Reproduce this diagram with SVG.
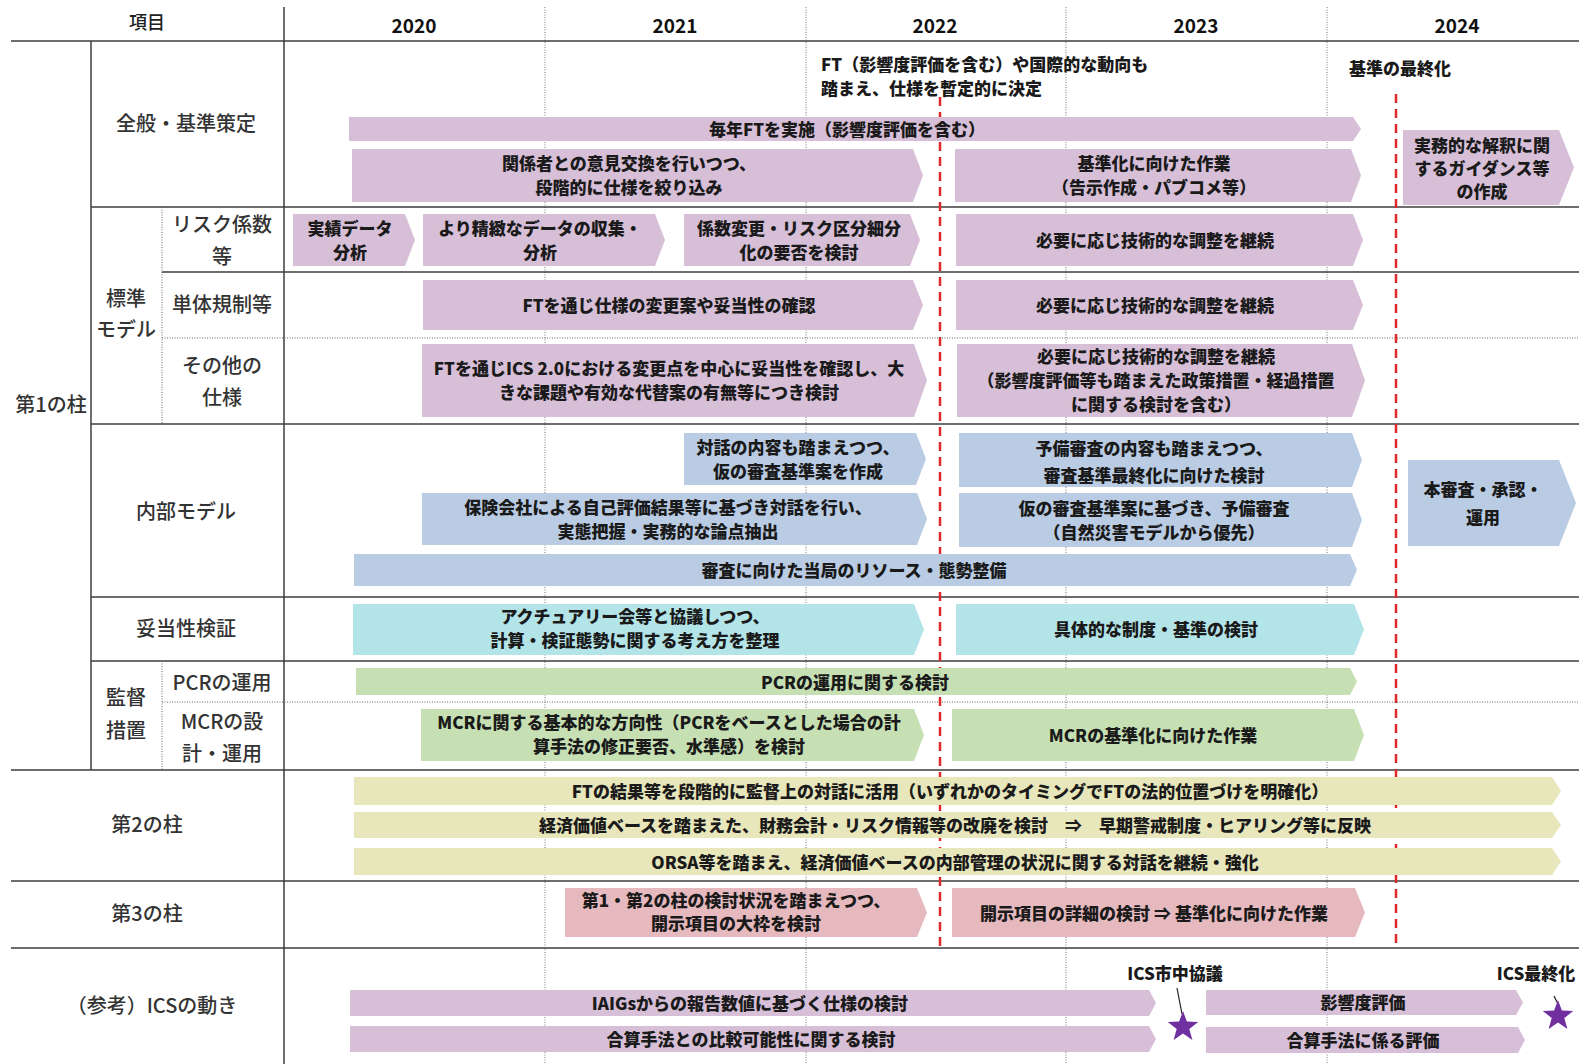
<svg xmlns="http://www.w3.org/2000/svg" width="1579" height="1064" viewBox="0 0 1579 1064">
<defs>
<style>
text{font-family:"Noto Sans CJK JP","Noto Sans CJK SC",sans-serif;}
.h{font-size:19px;font-weight:700;fill:#111;text-anchor:middle;dominant-baseline:central}
.hk{font-size:18px;font-weight:500;fill:#222;text-anchor:middle;dominant-baseline:central}
.l{font-size:20px;font-weight:500;fill:#333;text-anchor:middle;dominant-baseline:central}
.t{font-size:17px;font-weight:900;fill:#1a1a1a;text-anchor:middle;dominant-baseline:central}
.a{font-size:17px;font-weight:900;fill:#1a1a1a;dominant-baseline:central}
.g{stroke:#3c3c3c;stroke-width:1.5;fill:none}
.gd{stroke:#666;stroke-width:1;stroke-dasharray:1 1.5;fill:none}
.yr{stroke:#777;stroke-width:1;stroke-dasharray:1 1.5;fill:none}
.red{stroke:#e0282c;stroke-width:2.5;stroke-dasharray:9 6;fill:none}
.pu{fill:#d7bfd8}.bl{fill:#b9cce4}.cy{fill:#b3e4e8}.gr{fill:#c6e0b4}.ye{fill:#e8e6bb}.pk{fill:#e6b9bf}
.star{fill:#7030a0}
.pin{stroke:#222;stroke-width:1.2}
</style>
<polygon id="star" points="0,-16 3.9,-5.4 15.2,-4.9 6.3,2.05 9.4,12.9 0,6.6 -9.4,12.9 -6.3,2.05 -15.2,-4.9 -3.9,-5.4"/>
</defs>
<rect width="1579" height="1064" fill="#fff"/>

<g id="grid">
<line class="yr" x1="545" y1="7" x2="545" y2="1064"/>
<line class="yr" x1="806" y1="7" x2="806" y2="1064"/>
<line class="yr" x1="1066" y1="7" x2="1066" y2="1064"/>
<line class="yr" x1="1327" y1="7" x2="1327" y2="1064"/>
<line class="g" x1="284" y1="7" x2="284" y2="1064"/>
<line class="g" x1="11" y1="41" x2="1579" y2="41"/>
<line class="g" x1="91" y1="41" x2="91" y2="770"/>
<line class="g" x1="91" y1="207" x2="1579" y2="207"/>
<line class="gd" x1="162" y1="207" x2="162" y2="424"/>
<line class="g" x1="162" y1="272" x2="1579" y2="272"/>
<line class="gd" x1="162" y1="338" x2="1579" y2="338"/>
<line class="g" x1="91" y1="424" x2="1579" y2="424"/>
<line class="g" x1="91" y1="597" x2="1579" y2="597"/>
<line class="g" x1="91" y1="661" x2="1579" y2="661"/>
<line class="gd" x1="162" y1="661" x2="162" y2="770"/>
<line class="gd" x1="162" y1="702" x2="1579" y2="702"/>
<line class="g" x1="11" y1="770" x2="1579" y2="770"/>
<line class="g" x1="11" y1="881" x2="1579" y2="881"/>
<line class="g" x1="11" y1="948" x2="1579" y2="948"/>
</g>

<g id="header">
<text class="hk" x="147" y="21">項目</text>
<text class="h" x="414" y="24">2020</text>
<text class="h" x="675" y="24">2021</text>
<text class="h" x="935" y="24">2022</text>
<text class="h" x="1196" y="24">2023</text>
<text class="h" x="1457" y="24">2024</text>
</g>

<g id="labels">
<text class="l" x="51" y="403">第1の柱</text>
<text class="l" x="186" y="122">全般・基準策定</text>
<text class="l" x="126" y="297">標準</text>
<text class="l" x="126" y="328">モデル</text>
<text class="l" x="222" y="223">リスク係数</text>
<text class="l" x="222" y="255">等</text>
<text class="l" x="222" y="303">単体規制等</text>
<text class="l" x="222" y="364">その他の</text>
<text class="l" x="222" y="396">仕様</text>
<text class="l" x="186" y="510">内部モデル</text>
<text class="l" x="186" y="627">妥当性検証</text>
<text class="l" x="126" y="696">監督</text>
<text class="l" x="126" y="729">措置</text>
<text class="l" x="222" y="681">PCRの運用</text>
<text class="l" x="222" y="720">MCRの設</text>
<text class="l" x="222" y="752">計・運用</text>
<text class="l" x="147" y="823">第2の柱</text>
<text class="l" x="147" y="912">第3の柱</text>
<text class="l" x="152" y="1004">（参考）ICSの動き</text>
</g>

<g id="milestones">
<line class="red" x1="940" y1="97" x2="940" y2="946"/>
<line class="red" x1="1396" y1="94" x2="1396" y2="944"/>
<text class="a" x="821" y="63">FT（影響度評価を含む）や国際的な動向も</text>
<text class="a" x="821" y="87">踏まえ、仕様を暫定的に決定</text>
<text class="a" x="1349" y="67">基準の最終化</text>
</g>

<g id="b1"><polygon class="pu" points="349,117 1353,117 1361,129 1353,141 349,141"/><text class="t" x="847" y="128">毎年FTを実施（影響度評価を含む）</text></g>
<g id="b2"><polygon class="pu" points="352,149 913,149 923,175.5 913,202 352,202"/><text class="t"><tspan x="629" y="162">関係者との意見交換を行いつつ、</tspan><tspan x="629" y="186">段階的に仕様を絞り込み</tspan></text></g>
<g id="b3"><polygon class="pu" points="955,149 1351,149 1361,175.5 1351,202 955,202"/><text class="t"><tspan x="1154" y="162">基準化に向けた作業</tspan><tspan x="1154" y="186">（告示作成・パブコメ等）</tspan></text></g>
<g id="b4"><polygon class="pu" points="1403,130 1559,130 1574,167.5 1559,205 1403,205"/><text class="t"><tspan x="1482" y="144">実務的な解釈に関</tspan><tspan x="1482" y="167">するガイダンス等</tspan><tspan x="1482" y="190">の作成</tspan></text></g>

<g id="b5"><polygon class="pu" points="293,214 405,214 415,240 405,266 293,266"/><text class="t"><tspan x="350" y="227">実績データ</tspan><tspan x="350" y="251">分析</tspan></text></g>
<g id="b6"><polygon class="pu" points="423,214 655,214 665,240 655,266 423,266"/><text class="t"><tspan x="540" y="227">より精緻なデータの収集・</tspan><tspan x="540" y="251">分析</tspan></text></g>
<g id="b7"><polygon class="pu" points="684,214 910,214 920,240 910,266 684,266"/><text class="t"><tspan x="799" y="227">係数変更・リスク区分細分</tspan><tspan x="799" y="251">化の要否を検討</tspan></text></g>
<g id="b8"><polygon class="pu" points="956,214 1353,214 1363,240 1353,266 956,266"/><text class="t" x="1155" y="239">必要に応じ技術的な調整を継続</text></g>

<g id="b9"><polygon class="pu" points="423,280 913,280 923,305 913,330 423,330"/><text class="t" x="669" y="304">FTを通じ仕様の変更案や妥当性の確認</text></g>
<g id="b10"><polygon class="pu" points="956,280 1353,280 1363,305 1353,330 956,330"/><text class="t" x="1155" y="304">必要に応じ技術的な調整を継続</text></g>

<g id="b11"><polygon class="pu" points="422,344 914,344 927,380.5 914,417 422,417"/><text class="t"><tspan x="669" y="367">FTを通じICS 2.0における変更点を中心に妥当性を確認し、大</tspan><tspan x="669" y="391">きな課題や有効な代替案の有無等につき検討</tspan></text></g>
<g id="b12"><polygon class="pu" points="957,344 1352,344 1365,380.5 1352,417 957,417"/><text class="t"><tspan x="1156" y="355">必要に応じ技術的な調整を継続</tspan><tspan x="1156" y="379">（影響度評価等も踏まえた政策措置・経過措置</tspan><tspan x="1156" y="403">に関する検討を含む）</tspan></text></g>

<g id="b13"><polygon class="bl" points="684,433 916,433 926,459 916,485 684,485"/><text class="t"><tspan x="798" y="446">対話の内容も踏まえつつ、</tspan><tspan x="798" y="470">仮の審査基準案を作成</tspan></text></g>
<g id="b14"><polygon class="bl" points="959,433 1352,433 1362,460 1352,487 959,487"/><text class="t"><tspan x="1154" y="447">予備審査の内容も踏まえつつ、</tspan><tspan x="1154" y="474">審査基準最終化に向けた検討</tspan></text></g>
<g id="b15"><polygon class="bl" points="422,493 917,493 927,519 917,545 422,545"/><text class="t"><tspan x="668" y="506">保険会社による自己評価結果等に基づき対話を行い、</tspan><tspan x="668" y="530">実態把握・実務的な論点抽出</tspan></text></g>
<g id="b16"><polygon class="bl" points="959,493 1352,493 1362,520 1352,547 959,547"/><text class="t"><tspan x="1154" y="507">仮の審査基準案に基づき、予備審査</tspan><tspan x="1154" y="531">（自然災害モデルから優先）</tspan></text></g>
<g id="b17"><polygon class="bl" points="354,554 1350,554 1357,570 1350,586 354,586"/><text class="t" x="854" y="569">審査に向けた当局のリソース・態勢整備</text></g>
<g id="b18"><polygon class="bl" points="1408,460 1559,460 1576,503 1559,546 1408,546"/><text class="t"><tspan x="1483" y="488">本審査・承認・</tspan><tspan x="1483" y="516">運用</tspan></text></g>

<g id="b19"><polygon class="cy" points="353,604 914,604 924,629.5 914,655 353,655"/><text class="t"><tspan x="635" y="615">アクチュアリー会等と協議しつつ、</tspan><tspan x="635" y="639">計算・検証態勢に関する考え方を整理</tspan></text></g>
<g id="b20"><polygon class="cy" points="956,604 1354,604 1364,629.5 1354,655 956,655"/><text class="t" x="1156" y="628">具体的な制度・基準の検討</text></g>

<g id="b21"><polygon class="gr" points="356,668 1350,668 1357,681.5 1350,695 356,695"/><text class="t" x="855" y="681">PCRの運用に関する検討</text></g>
<g id="b22"><polygon class="gr" points="421,709 914,709 924,735 914,761 421,761"/><text class="t"><tspan x="669" y="721">MCRに関する基本的な方向性（PCRをベースとした場合の計</tspan><tspan x="669" y="745">算手法の修正要否、水準感）を検討</tspan></text></g>
<g id="b23"><polygon class="gr" points="952,709 1354,709 1364,735 1354,761 952,761"/><text class="t" x="1153" y="734">MCRの基準化に向けた作業</text></g>

<g id="b24"><polygon class="ye" points="354,777 1552,777 1561,791 1552,805 354,805"/><text class="t" x="950" y="790">FTの結果等を段階的に監督上の対話に活用（いずれかのタイミングでFTの法的位置づけを明確化）</text></g>
<g id="b25"><polygon class="ye" points="354,812 1552,812 1561,825 1552,838 354,838"/><text class="t" x="955" y="824">経済価値ベースを踏まえた、財務会計・リスク情報等の改廃を検討　⇒　早期警戒制度・ヒアリング等に反映</text></g>
<g id="b26"><polygon class="ye" points="354,848 1552,848 1561,861.5 1552,875 354,875"/><text class="t" x="955" y="861">ORSA等を踏まえ、経済価値ベースの内部管理の状況に関する対話を継続・強化</text></g>

<g id="b27"><polygon class="pk" points="565,888 917,888 927,912.5 917,937 565,937"/><text class="t"><tspan x="736" y="899">第1・第2の柱の検討状況を踏まえつつ、</tspan><tspan x="736" y="922">開示項目の大枠を検討</tspan></text></g>
<g id="b28"><polygon class="pk" points="952,888 1355,888 1365,912.5 1355,937 952,937"/><text class="t" x="1154" y="912">開示項目の詳細の検討 ⇒ 基準化に向けた作業</text></g>

<g id="b29"><polygon class="pu" points="350,990 1149,990 1156,1003 1149,1016 350,1016"/><text class="t" x="750" y="1002">IAIGsからの報告数値に基づく仕様の検討</text></g>
<g id="b30"><polygon class="pu" points="350,1026 1149,1026 1156,1039 1149,1052 350,1052"/><text class="t" x="751" y="1038">合算手法との比較可能性に関する検討</text></g>
<g id="b31"><polygon class="pu" points="1206,990 1516,990 1523,1002.5 1516,1015 1206,1015"/><text class="t" x="1363" y="1001">影響度評価</text></g>
<g id="b32"><polygon class="pu" points="1206,1027 1518,1027 1525,1040 1518,1053 1206,1053"/><text class="t" x="1363" y="1039">合算手法に係る評価</text></g>

<g id="ics-consult"><text class="t" x="1175" y="972">ICS市中協議</text><line class="pin" x1="1177" y1="988" x2="1182" y2="1014"/><use href="#star" class="star" x="1183" y="1027"/></g>
<g id="ics-final"><text class="t" x="1536" y="972">ICS最終化</text><line class="pin" x1="1554" y1="996" x2="1558" y2="1004"/><use href="#star" class="star" x="1558" y="1016"/></g>
</svg>
